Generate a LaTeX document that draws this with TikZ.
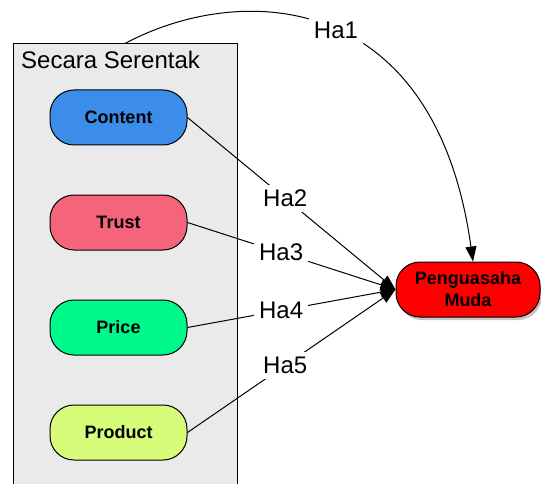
\documentclass[tikz,border=0pt]{standalone}
\usepackage{fontspec}
\setmainfont{Liberation Sans}
\usetikzlibrary{arrows.meta,shadows}

\definecolor{grpfill}{HTML}{EAEAEA}
\definecolor{contentfill}{HTML}{3C8DEA}
\definecolor{trustfill}{HTML}{F4647B}
\definecolor{pricefill}{HTML}{00F98C}
\definecolor{productfill}{HTML}{D6FC7A}
\definecolor{targetfill}{HTML}{FF0000}

\begin{document}
\begin{tikzpicture}[x=1pt,y=-1pt,
  pill/.style={draw=black, line width=1pt, rounded corners=24pt,
    minimum width=137pt, minimum height=55pt, inner sep=0pt,
    font=\fontsize{18}{22}\selectfont\bfseries},
  conn/.style={draw=black, line width=1pt,
    -{Triangle[length=15pt,width=11pt]}},
  hlabel/.style={fill=white, inner sep=5pt,
    font=\fontsize{24}{28}\selectfont}]
\clip (0,0) rectangle (541,484);
\fill[white] (0,0) rectangle (541,484);

% grouping box (runs off the bottom edge)
\node[draw=black, line width=1pt, fill=grpfill, minimum width=224pt,
  minimum height=456pt, inner sep=0pt] (grp) at (125,272) {};
\node[anchor=base west, inner sep=0pt, font=\fontsize{24}{28}\selectfont]
  (grptitle) at (21,69) {Secara Serentak};

% independent variables
\node[pill, fill=contentfill] (content) at (118.5,117.5) {Content};
\node[pill, fill=trustfill]   (trust)   at (118.5,222.5) {Trust};
\node[pill, fill=pricefill]   (price)   at (118.5,327.5) {Price};
\node[pill, fill=productfill] (product) at (118.5,432.5) {Product};

% dependent variable
\node[pill, fill=targetfill, minimum width=144pt, align=center,
  drop shadow={shadow xshift=2pt, shadow yshift=-3pt, opacity=0.45}]
  (pm) at (468,289.5) {Penguasaha\\Muda};

% hypotheses
\draw[conn] (grp.north) .. controls (240,-18) and (435,-12) ..
  node[hlabel, pos=0.52] (ha1) {Ha1} ([xshift=5pt]pm.north);
\draw[conn] (content.east) -- node[hlabel, pos=0.47] (ha2) {Ha2} (pm.west);
\draw[conn] (trust.east)   -- node[hlabel, pos=0.45] (ha3) {Ha3} (pm.west);
\draw[conn] (price.east)   -- node[hlabel, pos=0.45] (ha4) {Ha4} (pm.west);
\draw[conn] (product.east) -- node[hlabel, pos=0.47] (ha5) {Ha5} (pm.west);
\end{tikzpicture}
\end{document}
